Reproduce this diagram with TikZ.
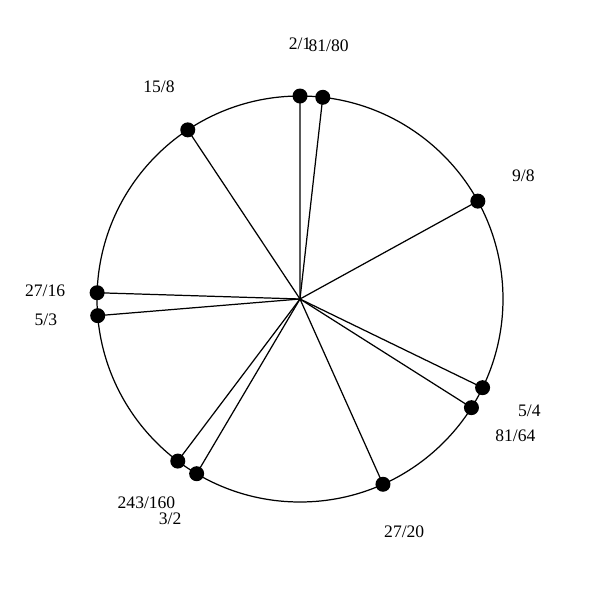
\documentclass[tikz,border=0pt]{standalone}
\usepackage{fontspec}
\setmainfont{Liberation Serif}
\tikzset{ratio/.style={circle,fill=black,inner sep=0pt,minimum size=0.3cm}}
\begin{document}
\begin{tikzpicture}[line width=0.7pt]
		\useasboundingbox (-6,-6.02) rectangle (6,5.98);
		\coordinate (o) at (0,0);
		\draw (o) circle (4.06cm);
		\foreach \p/\q [count=\i] in {2/1,81/80,9/8,5/4,81/64,27/20,3/2,243/160,5/3,27/16,15/8}
		{\pgfmathsetmacro{\a}{90-360*ln(\p/\q)/ln(2)}
			\node[ratio] (p\i) at (\a:4.06) {};
			\draw (o) -- (p\i.center);
			\node (l\i) at (\a:5.1) {\p/\q};
		}
		\end{tikzpicture}
\end{document}
